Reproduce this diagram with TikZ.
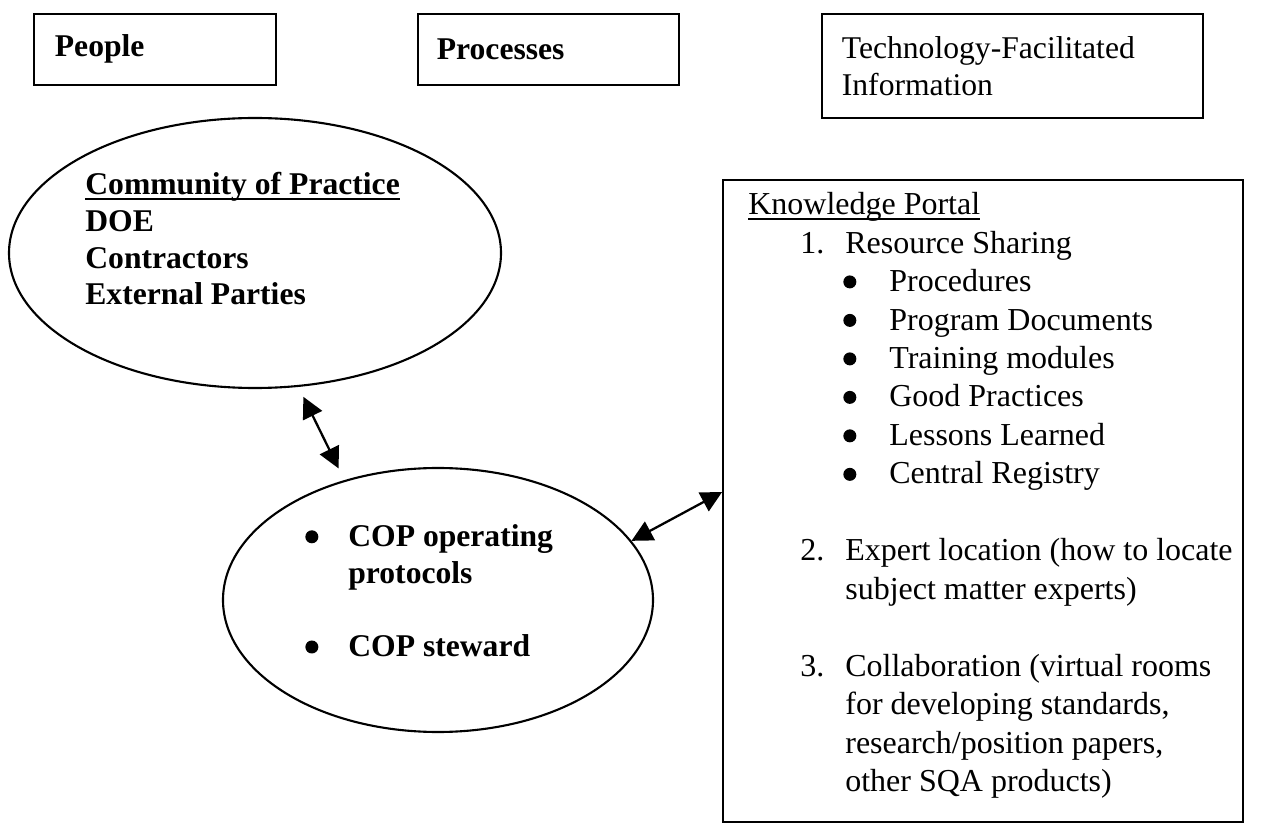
\documentclass[tikz,border=0pt]{standalone}
\usepackage{fontspec}
\setmainfont{Liberation Serif}
\usetikzlibrary{shapes.geometric,arrows.meta}

\newcommand{\hdfont}{\fontsize{18}{20.9}\selectfont}
\newcommand{\ptfont}{\fontsize{18.2}{21.9}\selectfont}
\newcommand{\blt}{\tikz[baseline=-0.3em]\fill (0,0) circle (0.13cm);}
\newcommand{\thickul}[1]{\setbox0=\hbox{#1}\rlap{\rule[-0.16em]{\wd0}{1.1pt}}\box0}
\newcommand{\numitem}[2]{\hspace*{1.04cm}\makebox[0.9cm][l]{#1}#2}
\newcommand{\numcont}[1]{\hspace*{1.94cm}#1}
\newcommand{\dotitem}[1]{\hspace*{1.9cm}\makebox[0.92cm][l]{\blt}#1}

\tikzset{
  hdr/.style={draw, line width=1pt, rectangle, anchor=north west, align=left, inner ysep=0pt},
  blob/.style={draw, line width=1.2pt, ellipse, inner sep=0pt},
  txt/.style={anchor=north west, align=left, inner sep=0pt},
  link/.style={line width=1.3pt, {Triangle[length=0.42cm,width=0.42cm]}-{Triangle[length=0.42cm,width=0.42cm]}}
}

\begin{document}
\begin{tikzpicture}[every node/.append style={font=\hdfont}]
\useasboundingbox (0,0) rectangle (25.22,-16.52);

% the three headings
\node[hdr, minimum width=4.84cm, minimum height=1.42cm, inner xsep=0.42cm, text width=4.0cm, font=\hdfont\bfseries] (people) at (0.66,-0.26) {People};
\node[hdr, minimum width=5.22cm, minimum height=1.42cm, inner xsep=0.38cm, text width=4.46cm, font=\hdfont\bfseries] (process) at (8.34,-0.26) {Processes};
\node[hdr, minimum width=7.62cm, minimum height=2.08cm, inner xsep=0.4cm, text width=6.82cm] (tech) at (16.42,-0.26) {Technology-Facilitated\\Information};

% people and processes
\node[blob, minimum width=9.84cm, minimum height=5.4cm] (cop) at (5.1,-5.06) {};
\node[txt, font=\hdfont\bfseries] (copText) at (1.7,-3.44) {\thickul{Community of Practice}\\DOE\\Contractors\\External Parties};

\node[blob, minimum width=8.6cm, minimum height=5.28cm] (proc) at (8.76,-12.0) {};
\node[txt, font=\hdfont\bfseries] (procText) at (6.1,-10.48) {\makebox[0.86cm][l]{\blt}COP operating\\
  \hspace*{0.86cm}protocols\\[20.9pt]
  \makebox[0.86cm][l]{\blt}COP steward};

% knowledge portal
\node[draw, line width=1pt, minimum width=10.4cm, minimum height=12.84cm, inner sep=0pt] (portal) at (19.66,-10.02) {};
\node[txt, font=\ptfont] (portalText) at (14.96,-3.84) {\thickul{Knowledge Portal}\\
  \numitem{1.}{Resource Sharing}\\
  \dotitem{Procedures}\\
  \dotitem{Program Documents}\\
  \dotitem{Training modules}\\
  \dotitem{Good Practices}\\
  \dotitem{Lessons Learned}\\
  \dotitem{Central Registry}\\[21.9pt]
  \numitem{2.}{Expert location (how to locate}\\
  \numcont{subject matter experts)}\\[21.9pt]
  \numitem{3.}{Collaboration (virtual rooms}\\
  \numcont{for developing standards,}\\
  \numcont{research/position papers,}\\
  \numcont{other SQA products)}};

\draw[link, shorten <=0.22cm, shorten >=0.26cm] (cop.-72) -- (proc.128);
\draw[link] (proc.17) -- ([yshift=0.18cm]portal.west);

\end{tikzpicture}
\end{document}
